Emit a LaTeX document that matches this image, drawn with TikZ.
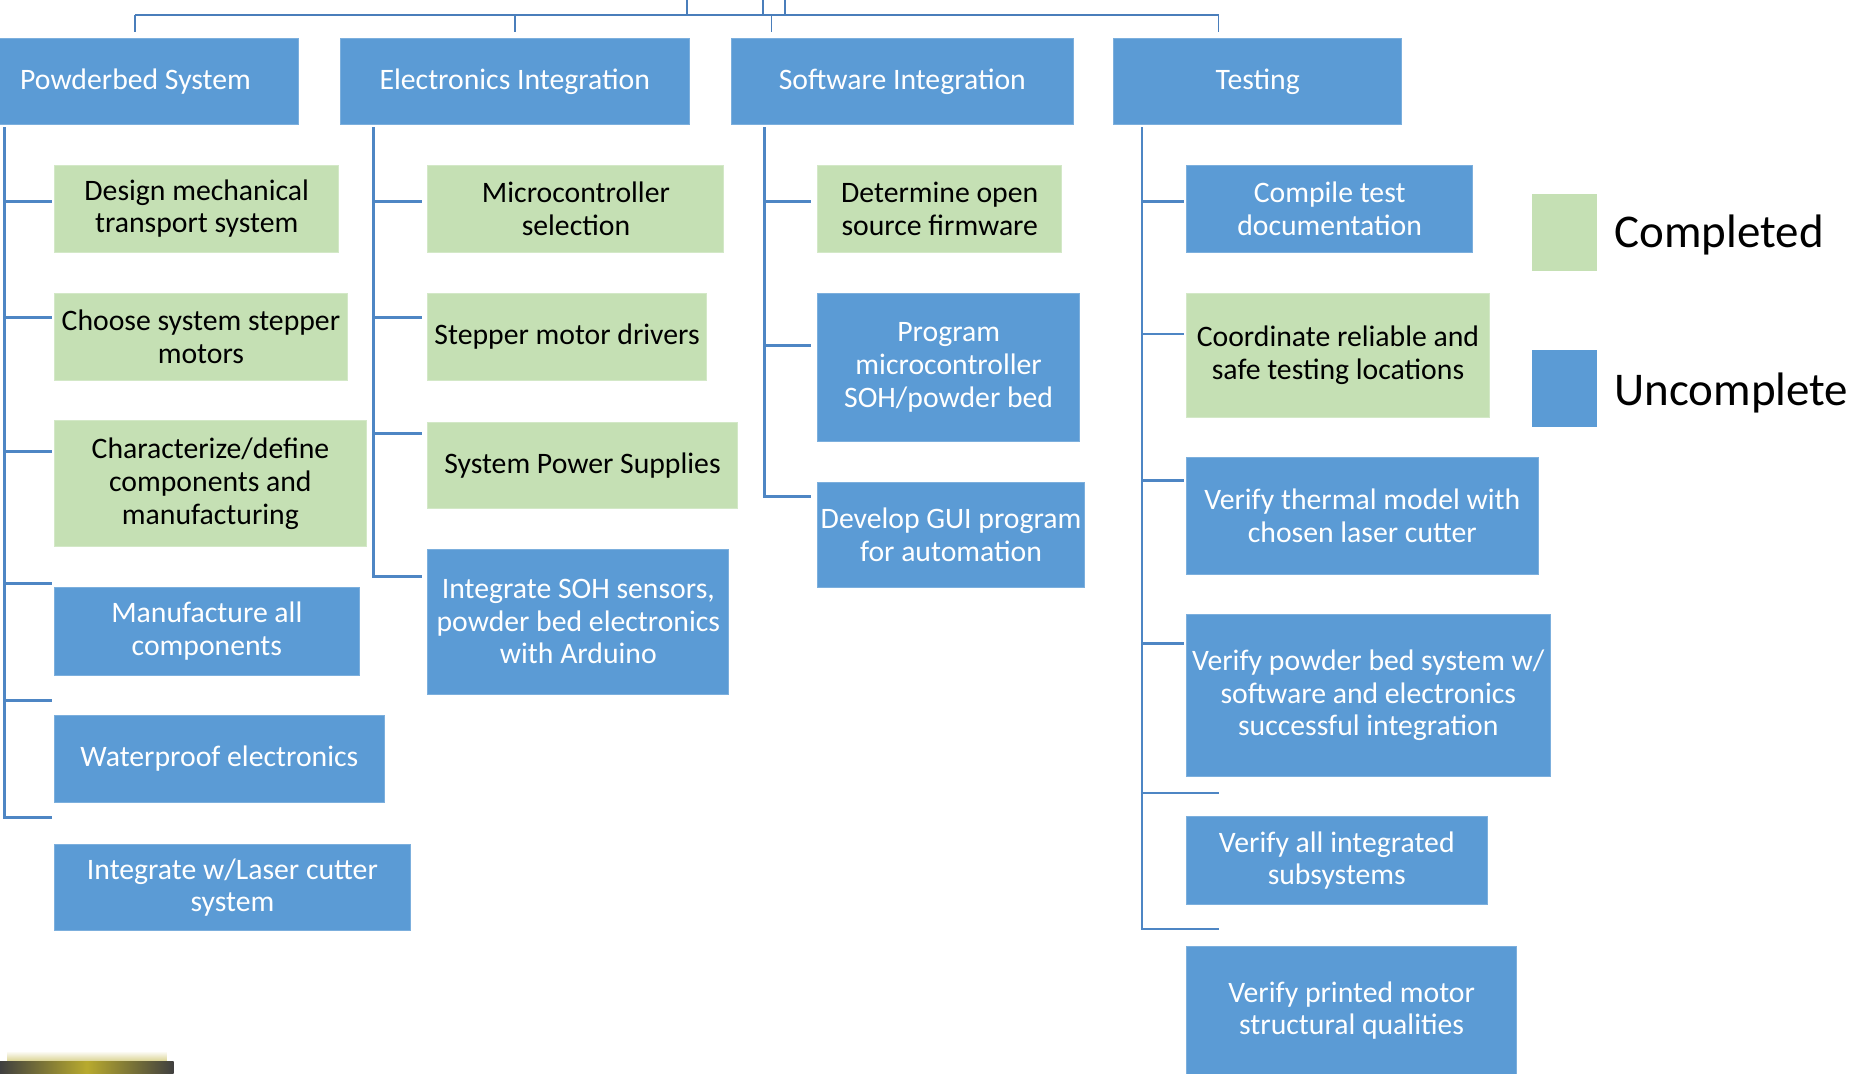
\documentclass[tikz,border=0pt]{standalone}
\usepackage{fontspec}
\setmainfont{Carlito}
\definecolor{taskblue}{HTML}{5B9BD5}
\definecolor{taskgreen}{HTML}{C5E0B4}
\definecolor{spineblue}{HTML}{4E86C4}
\definecolor{treeblue}{HTML}{4A7EBB}
\definecolor{smudge}{HTML}{B8AA2E}
\tikzset{
  task/.style={rectangle, inner sep=0pt, align=center, line width=.8pt,
    font=\fontsize{25}{27.5}\selectfont},
  done/.style={task, fill=taskgreen, draw=taskgreen!75!white, text=black},
  todo/.style={task, fill=taskblue, draw=taskblue!80!white, text=white},
  spine/.style={draw=spineblue, line width=2.4pt},
  tree/.style={draw=treeblue, line width=1.6pt},
  key/.style={rectangle, inner sep=0pt, minimum width=54pt, minimum height=65pt},
  keytext/.style={anchor=base west, inner sep=0pt,
    font=\fontsize{39.5}{44}\selectfont}
}

\begin{document}
\begin{tikzpicture}[x=1pt,y=-1pt]
  \path[use as bounding box, fill=white] (0,0) rectangle (1568,903);

  % ------------------------------------------------------------------
  % link up to the parent and down to the four work packages
  \draw[tree] (113.7,12.6) -- (1025,12.6);
  \foreach \x in {577.6,642,660}
    \draw[tree] (\x,12.6) -- (\x,-4);
  \foreach \x in {113.7,433,649,1025}
    \draw[tree] (\x,12.6) -- (\x,27);

  \node[todo, minimum width=274pt, minimum height=73pt] (pbs) at (114,68.5) {Powderbed System};
  \node[todo, minimum width=294pt, minimum height=73pt] (eli) at (433,68.5) {Electronics Integration};
  \node[todo, minimum width=288pt, minimum height=73pt] (swi) at (759,68.5) {Software Integration};
  \node[todo, minimum width=242pt, minimum height=73pt] (tst) at (1058,68.5) {Testing};

  % ------------------------------------------------------------------
  % 1. Powderbed system
  \draw[spine] (4,107) |- (44,687.5);
  \foreach \y in {169.5,267,379.5,491,589}
    \draw[spine] (4,\y) -- (44,\y);

  \node[done, minimum width=239pt, minimum height=73pt] (pbs1) at (165.5,175.5)
    {Design mechanical\\transport system};
  \node[done, minimum width=246pt, minimum height=73pt] (pbs2) at (169,283.5)
    {Choose system stepper\\motors};
  \node[done, minimum width=262pt, minimum height=106pt] (pbs3) at (177,407)
    {Characterize/define\\components and\\manufacturing};
  \node[todo, minimum width=256pt, minimum height=74pt] (pbs4) at (174,531)
    {Manufacture all\\components};
  \node[todo, minimum width=277pt, minimum height=73pt] (pbs5) at (184.5,638.5)
    {Waterproof electronics};
  \node[todo, minimum width=299pt, minimum height=73pt] (pbs6) at (195.5,746.5)
    {Integrate w/Laser cutter\\system};

  % ------------------------------------------------------------------
  % 2. Electronics integration
  \draw[spine] (314.5,107) |- (355,485);
  \foreach \y in {169.5,267,364.5}
    \draw[spine] (314.5,\y) -- (355,\y);

  \node[done, minimum width=249pt, minimum height=73pt] (eli1) at (484.5,175.5)
    {Microcontroller\\selection};
  \node[done, minimum width=234pt, minimum height=73pt] (eli2) at (477,283.5)
    {Stepper motor drivers};
  \node[done, minimum width=260pt, minimum height=73pt] (eli3) at (490,391.5)
    {System Power Supplies};
  \node[todo, minimum width=253pt, minimum height=122pt] (eli4) at (486.5,523)
    {Integrate SOH sensors,\\powder bed electronics\\with Arduino};

  % ------------------------------------------------------------------
  % 3. Software integration
  \draw[spine] (643,107) |- (682,418);
  \foreach \y in {169.5,290.5}
    \draw[spine] (643,\y) -- (682,\y);

  \node[done, minimum width=205pt, minimum height=73pt] (swi1) at (790.5,175.5)
    {Determine open\\source firmware};
  \node[todo, minimum width=220pt, minimum height=124pt] (swi2) at (798,309)
    {Program\\microcontroller\\SOH/powder bed};
  \node[todo, minimum width=224pt, minimum height=88pt] (swi3) at (800,450)
    {Develop GUI program\\for automation};

  % ------------------------------------------------------------------
  % 4. Testing
  \draw[spine] (960.6,107) |- (1025,781.5);
  \foreach \y in {169.5,281,404,541}
    \draw[spine] (960.6,\y) -- (996,\y);
  \draw[spine] (960.6,667) -- (1025,667);

  \node[todo, minimum width=241pt, minimum height=73pt] (tst1) at (1118.5,175.5)
    {Compile test\\documentation};
  \node[done, minimum width=255pt, minimum height=104pt] (tst2) at (1125.5,299)
    {Coordinate reliable and\\safe testing locations};
  \node[todo, minimum width=296pt, minimum height=98pt] (tst3) at (1146,434)
    {Verify thermal model with\\chosen laser cutter};
  \node[todo, minimum width=306pt, minimum height=136pt] (tst4) at (1151,585)
    {Verify powder bed system w/\\software and electronics\\successful integration};
  \node[todo, minimum width=253pt, minimum height=74pt] (tst5) at (1124.5,724)
    {Verify all integrated\\subsystems};
  \node[todo, minimum width=278pt, minimum height=108pt] (tst6) at (1137,850)
    {Verify printed motor\\structural qualities};

  % ------------------------------------------------------------------
  % key
  \node[key, fill=taskgreen] (keydone) at (1316,195.8) {};
  \node[key, fill=taskblue] (keytodo) at (1316,327) {};
  \node[keytext] (labdone) at (1358,208.6) {Completed};
  \node[keytext] (labtodo) at (1358,340.7) {Uncomplete};

  % smudge in the lower left corner
  \shade[top color=white, bottom color=smudge!55!white]
    (6,884) rectangle (140,893);
  \shade[left color=black!75, right color=black!75, middle color=smudge]
    (0,893) rectangle (146,906);
\end{tikzpicture}
\end{document}
